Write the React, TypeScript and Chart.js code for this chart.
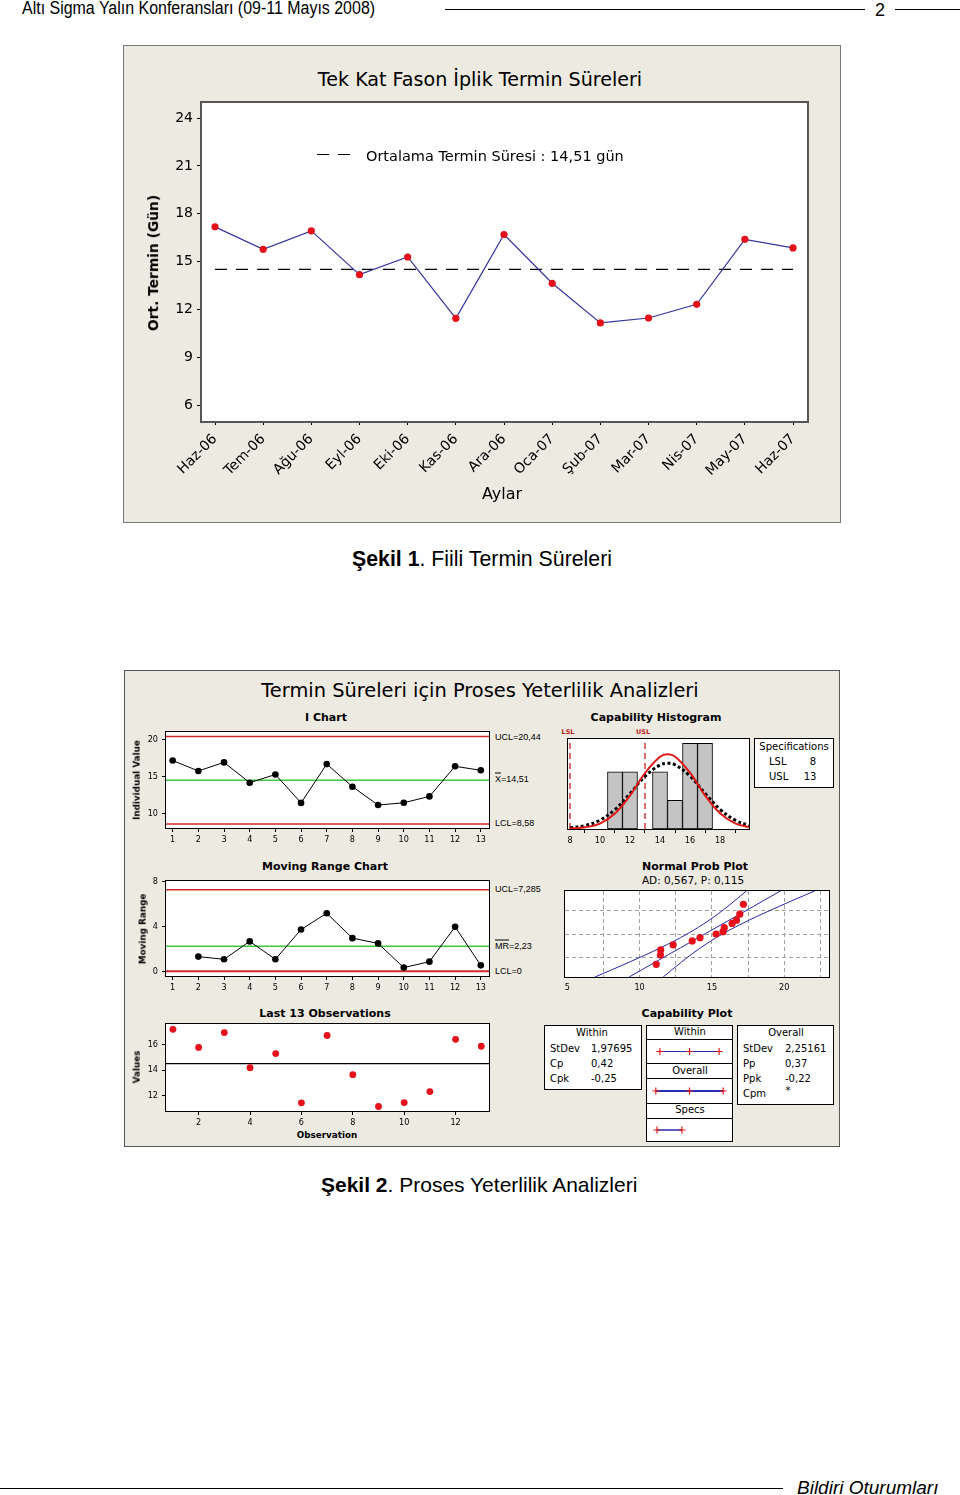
import React, { useEffect, useRef } from "react";
import { Chart, registerables } from "chart.js";

Chart.register(...registerables);

// ---------- fonts / colours ----------
const DV = "'DejaVu Sans', Verdana, sans-serif";
const DVC = "'DejaVu Sans Condensed', 'DejaVu Sans', sans-serif";
const AR = "'Liberation Sans', Arial, sans-serif";
const ARN = "'Liberation Sans Narrow', 'Liberation Sans', Arial, sans-serif";
const BEIGE = "#EDEAE1";
Chart.defaults.font.family = DV;

// ---------- Figure 1 data ----------
const MONTHS = ["Haz-06", "Tem-06", "Ağu-06", "Eyl-06", "Eki-06", "Kas-06", "Ara-06", "Oca-07", "Şub-07", "Mar-07", "Nis-07", "May-07", "Haz-07"];
const TERMIN = [17.18, 15.77, 16.93, 14.18, 15.29, 11.44, 16.7, 13.64, 11.15, 11.46, 12.32, 16.4, 15.86];
const MEAN_TERMIN = 14.51;
const FIG1_Y_TICKS = [6, 9, 12, 15, 18, 21, 24];

// ---------- Figure 2 data ----------
const OBS = [1, 2, 3, 4, 5, 6, 7, 8, 9, 10, 11, 12, 13];
const UCL_I = 20.44;
const LCL_I = 8.58;
const I_Y_TICKS = [10, 15, 20];

const MR_OBS = [2, 3, 4, 5, 6, 7, 8, 9, 10, 11, 12, 13];
const MR_VALUES = [1.31, 1.07, 2.67, 1.07, 3.73, 5.18, 2.96, 2.49, 0.33, 0.86, 3.97, 0.53];
const MR_BAR = 2.23;
const UCL_MR = 7.285;
const LCL_MR = 0;
const MR_Y_TICKS = [0, 4, 8];

const LAST_X_TICKS = [2, 4, 6, 8, 10, 12];
const LAST_Y_TICKS = [12, 14, 16];

const BIN_CENTERS = [11, 12, 13, 14, 15, 16, 17];
const BIN_COUNTS = [2, 2, 0, 2, 1, 3, 3];
const LSL = 8;
const USL = 13;
const HIST_X_TICKS = [8, 10, 12, 14, 16, 18];
const CURVE_X = [8, 9, 10, 11, 12, 13, 14, 14.5, 15, 16, 17, 18, 19, 19.95];
const WITHIN_CURVE = [0.02, 0.06, 0.19, 0.54, 1.17, 1.96, 2.53, 2.62, 2.54, 1.97, 1.18, 0.55, 0.2, 0.06];
const OVERALL_CURVE = [0.04, 0.12, 0.31, 0.68, 1.24, 1.84, 2.24, 2.3, 2.25, 1.85, 1.25, 0.69, 0.31, 0.12];

const NPP_VALUES = [11.15, 11.44, 11.46, 12.32, 13.64, 14.18, 15.29, 15.77, 15.86, 16.4, 16.7, 16.93, 17.18];
const NPP_SCORES = [-1.64, -1.14, -0.86, -0.59, -0.375, -0.2, 0, 0.125, 0.34, 0.57, 0.75, 1.07, 1.61];
const NPP_BAND_Z = [-2.33, -1.5, -0.75, 0, 0.75, 1.5, 2.33];
const NPP_FIT = [9.27, 11.13, 12.82, 14.51, 16.2, 17.89, 19.75];
const NPP_LOWER = [6.91, 9.35, 11.44, 13.29, 14.82, 16.11, 17.39];
const NPP_UPPER = [11.63, 12.92, 14.21, 15.73, 17.58, 19.67, 22.11];
const NPP_X_TICKS = [5, 7.5, 10, 12.5, 15, 17.5, 20, 22.5];
const NPP_Y_GRID = [-1.2816, 0, 1.2816];

const CAP_WITHIN = [8.58, 14.51, 20.44];
const CAP_OVERALL = [7.76, 14.51, 21.26];
const CAP_SPECS = [LSL, USL];

// ---------- helpers ----------
type Margin = { l: number; r: number; t: number; b: number };
type Area = [number, number, number, number];

const framePlugin = {
  id: "frame",
  beforeDraw(chart: any, _a: any, o: any) {
    if (o.fill === "none") return;
    const { ctx, chartArea: a } = chart;
    ctx.save();
    ctx.fillStyle = o.fill || "#fff";
    ctx.fillRect(a.left, a.top, a.right - a.left, a.bottom - a.top);
    ctx.restore();
  },
  afterDraw(chart: any, _a: any, o: any) {
    if (o.stroke === "none") return;
    const { ctx, chartArea: a } = chart;
    const w = o.width || 1;
    ctx.save();
    ctx.strokeStyle = o.stroke || "#000";
    ctx.lineWidth = w;
    ctx.strokeRect(a.left - w / 2, a.top - w / 2, a.right - a.left + w, a.bottom - a.top + w);
    ctx.restore();
  },
};

type AxOpts = {
  min: number; max: number; ticks?: number[]; size?: number; family?: string;
  labels?: (v: number) => string; show?: boolean; tickLen?: number; pad?: number;
  rot?: number; grid?: any; dash?: number[];
};

function axis(o: AxOpts) {
  const show = o.show !== false;
  const a: any = {
    type: "linear",
    min: o.min,
    max: o.max,
    offset: false,
    ticks: {
      display: show,
      color: "#000",
      autoSkip: false,
      maxRotation: o.rot || 0,
      minRotation: o.rot || 0,
      padding: o.pad ?? 2,
      font: { size: o.size || 9, family: o.family || DVC },
      callback: (v: any) => (o.labels ? o.labels(v) : String(v)),
    },
    grid: o.grid || {
      display: show,
      drawOnChartArea: false,
      drawTicks: true,
      tickLength: o.tickLen ?? 4,
      tickColor: "#000",
      tickWidth: 1,
      color: "#000",
    },
    border: { display: false, dash: o.dash || [] },
  };
  if (o.ticks && o.ticks.length) {
    const t = o.ticks;
    a.afterBuildTicks = (s: any) => {
      s.ticks = t.map((v) => ({ value: v }));
    };
  }
  return a;
}

function mkOptions(m: Margin, x: any, y: any, frame: any = {}) {
  return {
    responsive: false,
    animation: false,
    events: [],
    layout: { padding: { left: 0, top: m.t, right: m.r, bottom: 0 } },
    plugins: { legend: { display: false }, tooltip: { enabled: false }, title: { display: false }, frame },
    scales: {
      x: { ...x, position: "bottom", afterFit: (s: any) => { s.height = m.b; s.paddingLeft = 0; s.paddingRight = 0; } },
      y: { ...y, position: "left", afterFit: (s: any) => { s.width = m.l; s.paddingTop = 0; s.paddingBottom = 0; } },
    },
  };
}

function PlotCanvas({ area, m, make }: { area: Area; m: Margin; make: (m: Margin) => any }) {
  const ref = useRef<HTMLCanvasElement>(null);
  const w = area[2] - area[0] + m.l + m.r;
  const h = area[3] - area[1] + m.t + m.b;
  useEffect(() => {
    const cfg = make(m);
    cfg.plugins = [framePlugin];
    const chart = new Chart(ref.current as HTMLCanvasElement, cfg);
    return () => chart.destroy();
  }, []);
  return (
    <canvas
      ref={ref}
      width={w}
      height={h}
      style={{ position: "absolute", left: area[0] - m.l, top: area[1] - m.t, width: w, height: h }}
    />
  );
}

function T(props: {
  x: number; y: number; s?: number; b?: boolean; a?: "s" | "m" | "e"; f?: string; c?: string;
  i?: boolean; rot?: boolean; children: any; ls?: number; sx?: number;
}) {
  const { x, y, s = 10, b = false, a = "m", f = DV, c = "#000", i = false, rot = false, children, ls, sx } = props;
  const tx = rot ? "-50%" : a === "m" ? "-50%" : a === "e" ? "-100%" : "0";
  const origin = a === "s" ? "left center" : a === "e" ? "right center" : "center center";
  return (
    <div
      style={{
        position: "absolute",
        left: x,
        top: y,
        transform: `translate(${tx},-50%)${rot ? " rotate(-90deg)" : ""}${sx ? ` scaleX(${sx})` : ""}`,
        transformOrigin: sx ? origin : undefined,
        fontFamily: f,
        fontSize: s,
        fontWeight: b ? "bold" : "normal",
        fontStyle: i ? "italic" : "normal",
        color: c,
        lineHeight: 1,
        whiteSpace: "pre",
        letterSpacing: ls,
      }}
    >
      {children}
    </div>
  );
}

function Box(p: { x: number; y: number; w: number; h: number; bg?: string; bc?: string; bw?: number }) {
  return (
    <div
      style={{
        position: "absolute",
        left: p.x,
        top: p.y,
        width: p.w,
        height: p.h,
        boxSizing: "border-box",
        border: `${p.bw ?? 1}px solid ${p.bc || "#000"}`,
        background: p.bg || "#fff",
      }}
    />
  );
}

function Rule(p: { x: number; y: number; w: number; h?: number; c?: string }) {
  return <div style={{ position: "absolute", left: p.x, top: p.y, width: p.w, height: p.h ?? 1, background: p.c || "#000" }} />;
}

const hline = (v: number, color: string, x0: number, x1: number, w = 1.4) => ({
  data: [{ x: x0, y: v }, { x: x1, y: v }],
  borderColor: color,
  borderWidth: w,
  pointRadius: 0,
  order: 2,
});

const RED_CL = "#D02828";
const GREEN_CL = "#3CC83C";
const DOT_RED = "#E4101A";

// ---------- Figure 1 ----------
const F1_X = { min: -0.27, max: 12.29 };
const F1_Y = { min: 5, max: 24.95 };

function fig1(m: Margin) {
  return {
    type: "line",
    data: {
      datasets: [
        {
          data: TERMIN.map((v, i) => ({ x: i, y: v })),
          borderColor: "#3434A0",
          borderWidth: 1.2,
          pointRadius: 3.6,
          pointBackgroundColor: DOT_RED,
          pointBorderWidth: 0,
          order: 0,
        },
        {
          data: [{ x: 0, y: MEAN_TERMIN }, { x: 12, y: MEAN_TERMIN }],
          borderColor: "#000",
          borderWidth: 1.3,
          borderDash: [12, 9],
          pointRadius: 0,
          order: 1,
        },
      ],
    },
    options: mkOptions(
      m,
      axis({ ...F1_X, ticks: MONTHS.map((_, i) => i), labels: (v) => MONTHS[v], rot: 45, size: 14, family: DV, tickLen: 4, pad: 6 }),
      axis({ ...F1_Y, ticks: FIG1_Y_TICKS, size: 14, family: DV, tickLen: 5, pad: 4 }),
      { stroke: "#555", width: 2 }
    ),
  };
}

// ---------- Figure 2 sub-charts ----------
const IX = { min: 0.74, max: 13.32 };

function iChart(m: Margin) {
  return {
    type: "line",
    data: {
      datasets: [
        {
          data: OBS.map((o, i) => ({ x: o, y: TERMIN[i] })),
          borderColor: "#000",
          borderWidth: 1,
          pointRadius: 3.3,
          pointBackgroundColor: "#000",
          pointBorderWidth: 0,
          order: 0,
        },
        hline(UCL_I, RED_CL, IX.min, IX.max),
        hline(MEAN_TERMIN, GREEN_CL, IX.min, IX.max),
        hline(LCL_I, RED_CL, IX.min, IX.max),
      ],
    },
    options: mkOptions(
      m,
      axis({ ...IX, ticks: OBS }),
      axis({ min: 8.04, max: 21.05, ticks: I_Y_TICKS, pad: 4 }),
      { stroke: "#000", width: 1 }
    ),
  };
}

function mrChart(m: Margin) {
  return {
    type: "line",
    data: {
      datasets: [
        {
          data: MR_OBS.map((o, i) => ({ x: o, y: MR_VALUES[i] })),
          borderColor: "#000",
          borderWidth: 1,
          pointRadius: 3.3,
          pointBackgroundColor: "#000",
          pointBorderWidth: 0,
          order: 0,
        },
        hline(UCL_MR, RED_CL, IX.min, IX.max),
        hline(MR_BAR, GREEN_CL, IX.min, IX.max),
        hline(LCL_MR, RED_CL, IX.min, IX.max, 2),
      ],
    },
    options: mkOptions(
      m,
      axis({ ...IX, ticks: OBS }),
      axis({ min: -0.42, max: 8.06, ticks: MR_Y_TICKS, pad: 4 }),
      { stroke: "#000", width: 1 }
    ),
  };
}

function lastChart(m: Margin) {
  return {
    type: "line",
    data: {
      datasets: [
        {
          data: OBS.map((o, i) => ({ x: o, y: TERMIN[i] })),
          showLine: false,
          pointRadius: 3.4,
          pointBackgroundColor: DOT_RED,
          pointBorderWidth: 0,
          order: 0,
        },
        hline(MEAN_TERMIN, "#000", 0.73, 13.3, 1.2),
      ],
    },
    options: mkOptions(
      m,
      axis({ min: 0.73, max: 13.3, ticks: LAST_X_TICKS }),
      axis({ min: 10.8, max: 17.6, ticks: LAST_Y_TICKS, pad: 4 }),
      { stroke: "#000", width: 1 }
    ),
  };
}

const HIST_Y_MAX = 3.15;

function histChart(m: Margin) {
  return {
    type: "bar",
    data: {
      datasets: [
        {
          type: "line",
          data: CURVE_X.map((x, i) => ({ x, y: WITHIN_CURVE[i] })),
          borderColor: "#E01818",
          borderWidth: 2,
          pointRadius: 0,
          tension: 0.4,
          order: 0,
        },
        {
          type: "line",
          data: CURVE_X.map((x, i) => ({ x, y: OVERALL_CURVE[i] })),
          borderColor: "#000",
          borderWidth: 3,
          borderDash: [3, 2.5],
          pointRadius: 0,
          tension: 0.4,
          order: 1,
        },
        {
          type: "line",
          data: [{ x: LSL, y: 0 }, { x: LSL, y: HIST_Y_MAX }],
          borderColor: "#C02020",
          borderWidth: 1.3,
          borderDash: [6, 4],
          pointRadius: 0,
          order: 2,
        },
        {
          type: "line",
          data: [{ x: USL, y: 0 }, { x: USL, y: HIST_Y_MAX }],
          borderColor: "#C02020",
          borderWidth: 1.3,
          borderDash: [6, 4],
          pointRadius: 0,
          order: 2,
        },
        {
          type: "bar",
          data: BIN_CENTERS.map((c, i) => ({ x: c, y: BIN_COUNTS[i] })),
          backgroundColor: "#C4C4C4",
          borderColor: "#000",
          borderWidth: 1,
          borderSkipped: false,
          barPercentage: 1,
          categoryPercentage: 1,
          order: 3,
        },
      ],
    },
    options: mkOptions(
      m,
      axis({ min: 7.87, max: 19.93, ticks: HIST_X_TICKS }),
      axis({ min: 0, max: HIST_Y_MAX, show: false }),
      { stroke: "#000", width: 1 }
    ),
  };
}

function nppChart(m: Margin) {
  const band = (xs: number[]) => ({
    data: NPP_BAND_Z.map((z, i) => ({ x: xs[i], y: z })),
    borderColor: "#2828A8",
    borderWidth: 1,
    pointRadius: 0,
    tension: 0.35,
    order: 1,
  });
  return {
    type: "line",
    data: {
      datasets: [
        {
          data: NPP_VALUES.map((v, i) => ({ x: v, y: NPP_SCORES[i] })),
          showLine: false,
          pointRadius: 3.6,
          pointBackgroundColor: DOT_RED,
          pointBorderWidth: 0,
          order: 0,
        },
        band(NPP_FIT),
        band(NPP_LOWER),
        band(NPP_UPPER),
      ],
    },
    options: mkOptions(
      m,
      axis({
        min: 4.84,
        max: 23.1,
        ticks: NPP_X_TICKS,
        labels: (v) => (v % 5 === 0 ? String(v) : ""),
        pad: 5,
        dash: [4, 3],
        grid: {
          display: true,
          drawOnChartArea: true,
          drawTicks: false,
          lineWidth: 1,
          color: (c: any) => (c.tick && c.tick.value === 5 ? "rgba(0,0,0,0)" : "#A0A0A0"),
        },
      }),
      axis({
        min: -2.326,
        max: 2.326,
        ticks: NPP_Y_GRID,
        show: false,
        dash: [4, 3],
        grid: { display: true, drawOnChartArea: true, drawTicks: false, lineWidth: 1, color: "#A0A0A0" },
      }),
      { stroke: "#000", width: 1 }
    ),
  };
}

const CAP_X = { min: 7.04, max: 21.98 };
function capChart(vals: number[], lw: number) {
  return (m: Margin) => ({
    type: "line",
    data: {
      datasets: [
        {
          data: vals.map((v) => ({ x: v, y: 0.5 })),
          borderColor: "#2A2AB4",
          borderWidth: lw,
          pointStyle: "cross",
          pointRadius: 3.5,
          pointBorderColor: "#E01818",
          pointBackgroundColor: "#E01818",
          pointBorderWidth: 1.2,
        },
      ],
    },
    options: mkOptions(
      m,
      axis({ ...CAP_X, show: false }),
      axis({ min: 0, max: 1, show: false }),
      { fill: "none", stroke: "none" }
    ),
  });
}

const M0: Margin = { l: 0, r: 0, t: 0, b: 0 };

// ---------- page ----------
export default function App() {
  return (
    <div style={{ position: "absolute", left: 0, top: 0, width: 960, height: 1495, overflow: "hidden", background: "#fff" }}>
      {/* header */}
      <T x={22} y={9} s={17.5} a="s" f={AR} sx={0.912}>Altı Sigma Yalın Konferansları (09-11 Mayıs 2008)</T>
      <Rule x={445} y={8.5} w={420} h={1.3} />
      <T x={880} y={9.5} s={18} f={AR}>2</T>
      <Rule x={895} y={8.5} w={65} h={1.3} />

      {/* ---------- Figure 1 ---------- */}
      <Box x={123} y={45} w={718} h={478} bg={BEIGE} bc="#7A7A7A" />
      <T x={480} y={80} s={19.1} f={DV}>Tek Kat Fason İplik Termin Süreleri</T>
      <PlotCanvas area={[202, 103, 807, 421]} m={{ l: 79, r: 33, t: 57, b: 100 }} make={fig1} />
      <Rule x={317} y={154} w={12} h={1.3} />
      <Rule x={338} y={154} w={12} h={1.3} />
      <T x={366} y={156} s={14.5} a="s" f={DV}>Ortalama Termin Süresi : 14,51 gün</T>
      <T x={154} y={263} s={13.8} b rot f={DV}>Ort. Termin (Gün)</T>
      <T x={502} y={494} s={16} f={DV}>Aylar</T>

      {/* caption 1 */}
      <T x={352} y={560} s={21.3} a="s" f={AR}>
        <b>Şekil 1</b>. Fiili Termin Süreleri
      </T>

      {/* ---------- Figure 2 ---------- */}
      <Box x={124} y={670} w={716} h={477} bg={BEIGE} bc="#555" />
      <T x={480} y={691} s={19.4} f={DV}>Termin Süreleri için Proses Yeterlilik Analizleri</T>

      {/* I chart */}
      <T x={326} y={717} s={11} b>I Chart</T>
      <PlotCanvas area={[166, 732, 489, 828]} m={{ l: 40, r: 4, t: 6, b: 16 }} make={iChart} />
      <T x={137} y={780} s={8.8} b rot>Individual Value</T>
      <T x={495} y={737} s={9} a="s" f={ARN}>UCL=20,44</T>
      <T x={495} y={779} s={9} a="s" f={ARN}>
        <span style={{ textDecoration: "overline" }}>X</span>=14,51
      </T>
      <T x={495} y={823} s={9} a="s" f={ARN}>LCL=8,58</T>

      {/* Moving range */}
      <T x={325} y={866} s={11} b>Moving Range Chart</T>
      <PlotCanvas area={[166, 881, 489, 976]} m={{ l: 40, r: 4, t: 6, b: 16 }} make={mrChart} />
      <T x={143} y={929} s={8.8} b rot>Moving Range</T>
      <T x={495} y={889} s={9} a="s" f={ARN}>UCL=7,285</T>
      <T x={495} y={946} s={9} a="s" f={ARN}>
        <span style={{ textDecoration: "overline" }}>MR</span>=2,23
      </T>
      <T x={495} y={971} s={9} a="s" f={ARN}>LCL=0</T>

      {/* Last 13 observations */}
      <T x={325} y={1013} s={11} b>Last 13 Observations</T>
      <PlotCanvas area={[166, 1024, 489, 1111]} m={{ l: 40, r: 4, t: 6, b: 16 }} make={lastChart} />
      <T x={137} y={1067} s={8.8} b rot>Values</T>
      <T x={327} y={1135} s={8.8} b>Observation</T>

      {/* Capability histogram */}
      <T x={656} y={717} s={11} b>Capability Histogram</T>
      <T x={568} y={732} s={6.5} b c="#C02020">LSL</T>
      <T x={643} y={732} s={6.5} b c="#C02020">USL</T>
      <PlotCanvas area={[568, 739, 749, 829]} m={{ l: 6, r: 6, t: 4, b: 16 }} make={histChart} />
      <Box x={754} y={738} w={80} h={50} />
      <T x={794} y={747} s={10}>Specifications</T>
      <T x={769} y={762} s={10} a="s">LSL</T>
      <T x={813} y={762} s={10}>8</T>
      <T x={769} y={777} s={10} a="s">USL</T>
      <T x={810} y={777} s={10}>13</T>

      {/* Normal prob plot */}
      <T x={695} y={866} s={11} b>Normal Prob Plot</T>
      <T x={693} y={880} s={10.5}>AD: 0,567, P: 0,115</T>
      <PlotCanvas area={[565, 891, 829, 977]} m={{ l: 6, r: 8, t: 4, b: 16 }} make={nppChart} />

      {/* Capability plot */}
      <T x={687} y={1013} s={11} b>Capability Plot</T>
      <Box x={544} y={1025} w={98} h={65} />
      <T x={592} y={1033} s={10}>Within</T>
      <T x={550} y={1049} s={10} a="s">StDev</T>
      <T x={591} y={1049} s={10} a="s">1,97695</T>
      <T x={550} y={1064} s={10} a="s">Cp</T>
      <T x={591} y={1064} s={10} a="s">0,42</T>
      <T x={550} y={1079} s={10} a="s">Cpk</T>
      <T x={591} y={1079} s={10} a="s">-0,25</T>

      <Box x={646} y={1025} w={87} h={15} />
      <Box x={646} y={1039} w={87} h={25} />
      <Box x={646} y={1063} w={87} h={16} />
      <Box x={646} y={1078} w={87} h={26} />
      <Box x={646} y={1103} w={87} h={16} />
      <Box x={646} y={1118} w={87} h={24} />
      <T x={690} y={1032} s={10}>Within</T>
      <T x={690} y={1071} s={10}>Overall</T>
      <T x={690} y={1110} s={10}>Specs</T>
      <PlotCanvas area={[647, 1040, 732, 1063]} m={M0} make={capChart(CAP_WITHIN, 1.2)} />
      <PlotCanvas area={[647, 1079, 732, 1103]} m={M0} make={capChart(CAP_OVERALL, 2.2)} />
      <PlotCanvas area={[647, 1119, 732, 1141]} m={M0} make={capChart(CAP_SPECS, 1.6)} />

      <Box x={737} y={1025} w={97} h={80} />
      <T x={786} y={1033} s={10}>Overall</T>
      <T x={743} y={1049} s={10} a="s">StDev</T>
      <T x={785} y={1049} s={10} a="s">2,25161</T>
      <T x={743} y={1064} s={10} a="s">Pp</T>
      <T x={785} y={1064} s={10} a="s">0,37</T>
      <T x={743} y={1079} s={10} a="s">Ppk</T>
      <T x={785} y={1079} s={10} a="s">-0,22</T>
      <T x={743} y={1094} s={10} a="s">Cpm</T>
      <T x={788} y={1091} s={10}>*</T>

      {/* caption 2 */}
      <T x={321} y={1184} s={21} a="s" f={AR}>
        <b>Şekil 2</b>. Proses Yeterlilik Analizleri
      </T>

      {/* footer */}
      <Rule x={0} y={1487.5} w={783} h={1.5} />
      <T x={797} y={1487} s={19} a="s" i f={AR}>Bildiri Oturumları</T>
    </div>
  );
}
